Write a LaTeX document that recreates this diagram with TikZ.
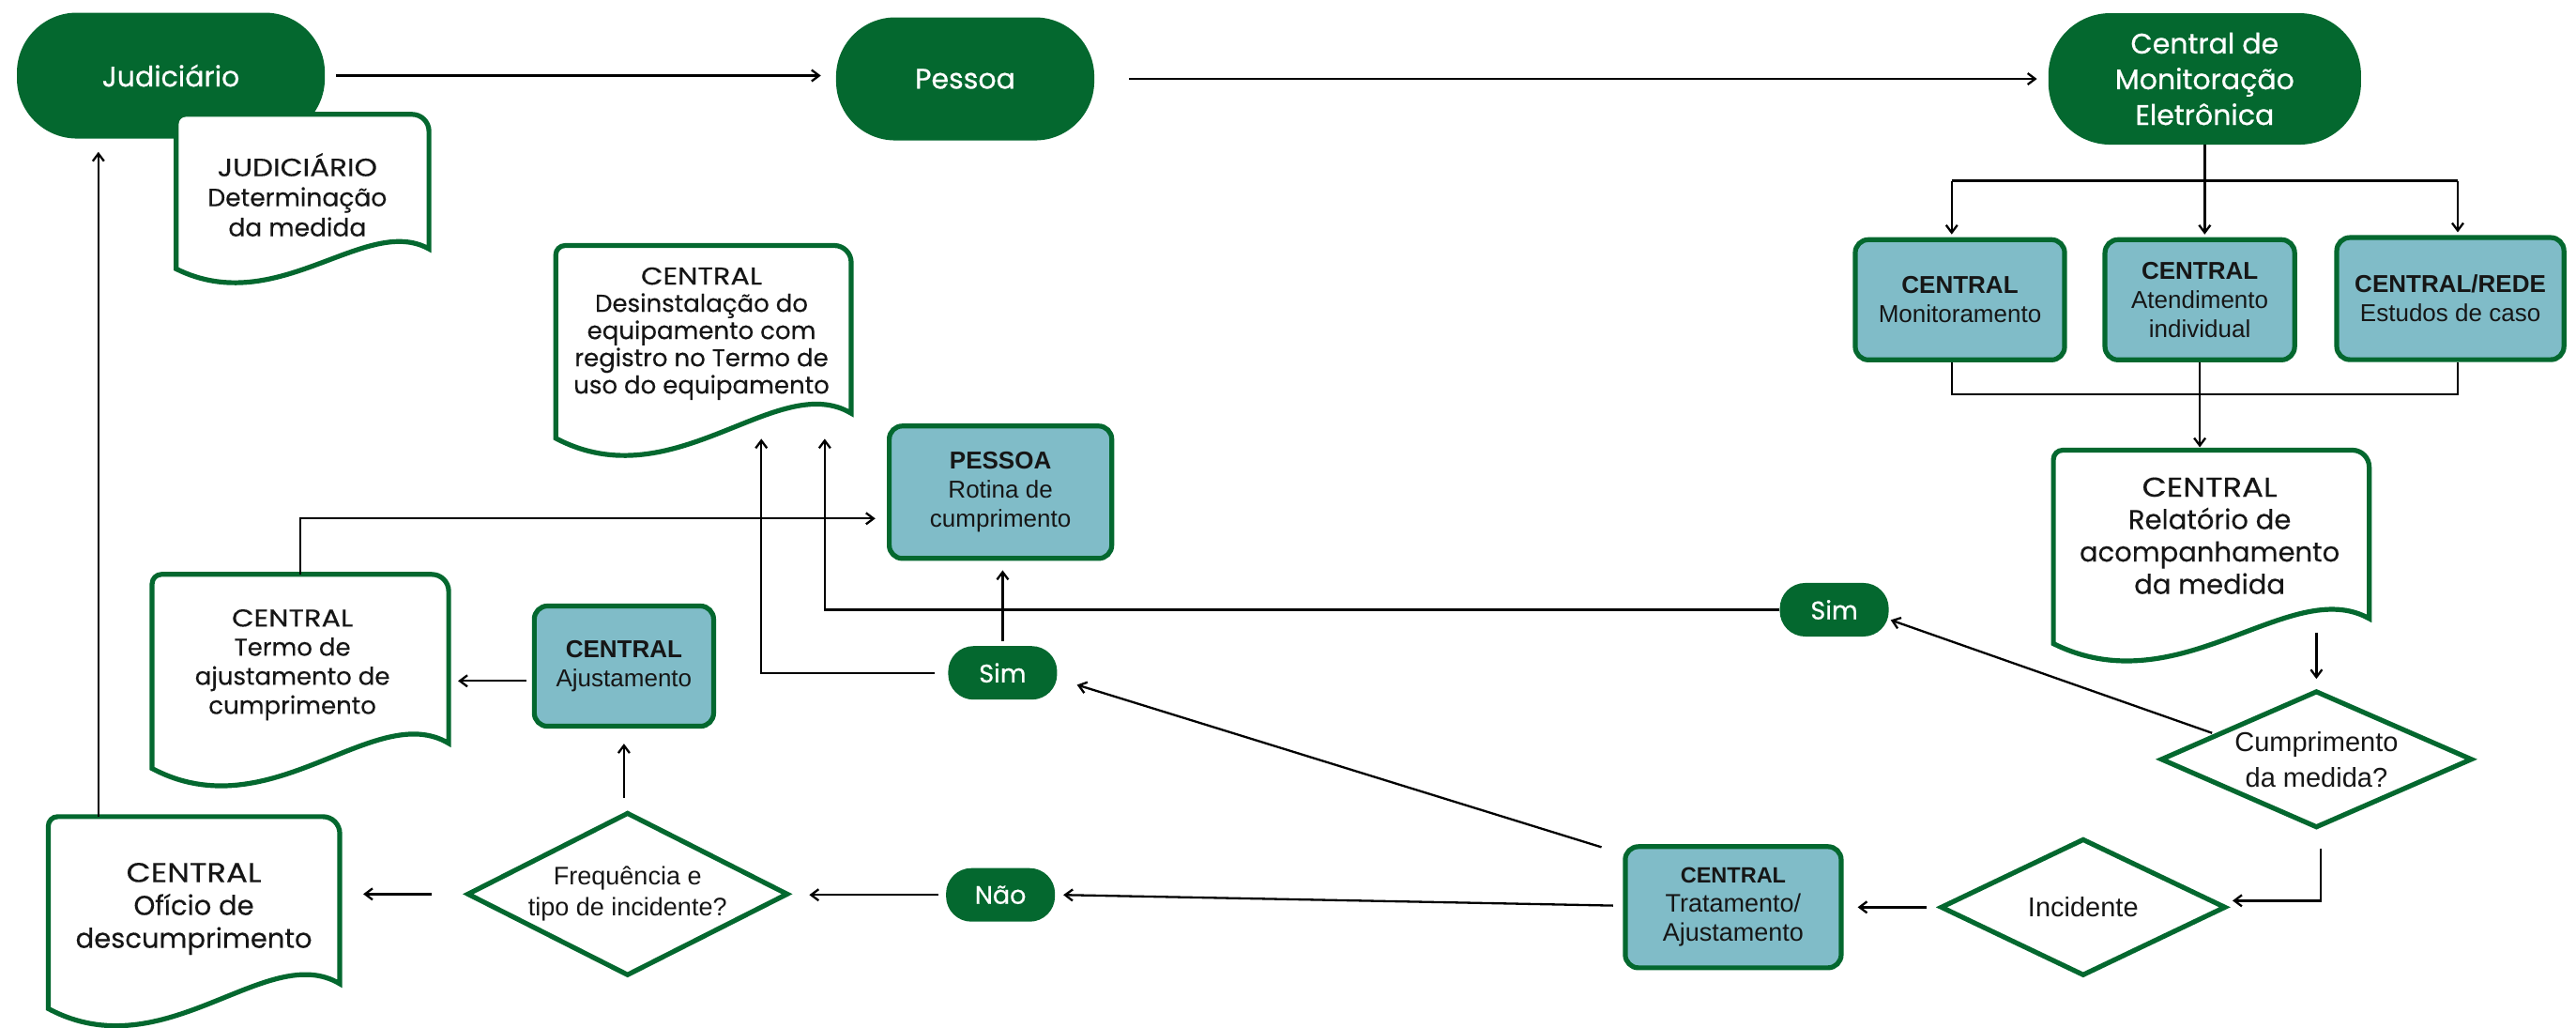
\documentclass[tikz,border=0pt]{standalone}
\usepackage{fontspec}
\setmainfont{Poppins}[FakeBold=0.3]
\newfontfamily\boxfont{Liberation Sans}
\newfontfamily\capsfont[FakeStretch=1.17,FakeBold=0.3]{Poppins}
\newfontfamily\pillfont[FakeBold=0.7]{Poppins}
\usetikzlibrary{shapes.geometric,arrows.meta,calc,fit}
\definecolor{dkgreen}{HTML}{04682F}
\definecolor{tealfill}{HTML}{80BCC8}
\definecolor{ink}{HTML}{161616}

\newcommand\docframe[1]{%
  \draw[docline] let \p1=(#1.north west), \p2=(#1.south east),
     \n1={\x2-\x1}, \n2={\y1-\y2} in
    (\x1,{\y2+0.089*\n2}) -- (\x1,{\y1-10}) arc[start angle=180,end angle=90,radius=10pt]
    -- ({\x2-18},\y1) arc[start angle=90,end angle=0,radius=18pt]
    -- (\x2,{\y2+0.207*\n2})
    .. controls ({\x1+0.75*\n1},{\y2+0.415*\n2}) and ({\x1+0.4*\n1},{\y2-0.207*\n2}) .. (\x1,{\y2+0.089*\n2}) -- cycle;}

\tikzset{
  pill/.style={fill=dkgreen, text=white, inner sep=0pt, align=center, font=\pillfont\fontsize{30}{38}\selectfont},
  smallpill/.style={fill=dkgreen, text=white, inner sep=0pt, rounded corners=27pt,
     minimum width=116pt, minimum height=57pt, font=\pillfont\fontsize{27}{30}\selectfont},
  boxnode/.style={rectangle, rounded corners=14pt, draw=dkgreen, line width=5.2pt, fill=tealfill,
     text=ink, align=center, inner sep=0pt, font=\boxfont\fontsize{26}{31}\selectfont},
  diam/.style={diamond, draw=dkgreen, line width=5.2pt, fill=white, text=ink, align=center,
     inner sep=0pt, font=\boxfont\fontsize{29}{38}\selectfont},
  docline/.style={draw=dkgreen, line width=5.2pt, fill=white},
  docarea/.style={inner sep=0pt},
  doctext/.style={text=ink, align=center, inner sep=0pt},
  conn/.style={draw=black, line width=2.3pt},
  arr/.style={conn, -{Straight Barb[length=8pt,width=12pt]}},
}

\begin{document}
\begin{tikzpicture}[x=1.75pt,y=-1.75pt]
\useasboundingbox (0,0) rectangle (1568,625);

% ---------- top pills
\node[pill, minimum width=328pt, minimum height=134pt, rounded corners=64pt] (judp) at (104,46) {Judiciário};
\node[pill, minimum width=275pt, minimum height=131pt, rounded corners=63pt] (pesp) at (587.5,48) {Pessoa};
\node[pill, minimum width=333pt, minimum height=140pt, rounded corners=66pt] (cmp) at (1342,48) {Central de\\Monitoração\\Eletrônica};

% ---------- documents
\path (107.4,69.7) coordinate (judd-nw) (261,172.7) coordinate (judd-se);
\node[docarea, fit=(judd-nw)(judd-se)] (judd) {};
\docframe{judd}
\node[doctext, font=\fontsize{26.5}{32}\selectfont] (judd-t) at (181,118.5) {{\capsfont JUDICIÁRIO}\\Determinação\\da medida};

\path (338.4,149.5) coordinate (desd-nw) (518,278) coordinate (desd-se);
\node[docarea, fit=(desd-nw)(desd-se)] (desd) {};
\docframe{desd}
\node[doctext, font=\fontsize{26}{29}\selectfont] (desd-t) at (427,203) {{\capsfont CENTRAL}\\Desinstalação do\\equipamento com\\registro no Termo de\\uso do equipamento};

\path (92.7,349.6) coordinate (termd-nw) (273,479) coordinate (termd-se);
\node[docarea, fit=(termd-nw)(termd-se)] (termd) {};
\docframe{termd}
\node[doctext, font=\fontsize{26}{31}\selectfont] (termd-t) at (178,404.5) {{\capsfont CENTRAL}\\Termo de\\ajustamento de\\cumprimento};

\path (29.5,497) coordinate (ofd-nw) (206.7,625) coordinate (ofd-se);
\node[docarea, fit=(ofd-nw)(ofd-se)] (ofd) {};
\docframe{ofd}
\node[doctext, font=\fontsize{29}{35}\selectfont] (ofd-t) at (118,553) {{\capsfont CENTRAL}\\Ofício de\\descumprimento};

\path (1250,274) coordinate (reld-nw) (1442,403) coordinate (reld-se);
\node[docarea, fit=(reld-nw)(reld-se)] (reld) {};
\docframe{reld}
\node[doctext, font=\fontsize{29}{34.5}\selectfont] (reld-t) at (1345,326) {{\capsfont CENTRAL}\\Relatório de\\acompanhamento\\da medida};

% ---------- boxes
\node[boxnode, minimum width=223pt, minimum height=128pt] (monb) at (1193,182.4) {\textbf{CENTRAL}\\Monitoramento};
\node[boxnode, minimum width=202pt, minimum height=128pt] (atb) at (1339,182.4) {\textbf{CENTRAL}\\Atendimento\\individual};
\node[boxnode, minimum width=242pt, minimum height=130pt] (estb) at (1491.5,181.7) {\textbf{CENTRAL/REDE}\\Estudos de caso};
\node[boxnode, minimum width=237pt, minimum height=141pt] (pessb) at (609,299.5) {\textbf{PESSOA}\\Rotina de\\cumprimento};
\node[boxnode, minimum width=191pt, minimum height=128pt] (ajb) at (379.8,405.3) {\textbf{CENTRAL}\\Ajustamento};
\node[boxnode, minimum width=230pt, minimum height=129pt, font=\boxfont\fontsize{27}{31}\selectfont] (tratb) at (1055,552) {{\fontsize{23.5}{31}\selectfont\textbf{CENTRAL}}\\Tratamento/\\Ajustamento};

% ---------- diamonds
\node[diam, minimum width=342pt, minimum height=174pt, aspect=1.95, font=\boxfont\fontsize{27}{33}\selectfont] (freqd) at (382,544) {Frequência e\\tipo de incidente?};
\node[diam, minimum width=332pt, minimum height=146pt, aspect=2.25] (cumd) at (1410,462) {Cumprimento\\da medida?};
\node[diam, minimum width=304pt, minimum height=146pt, aspect=2.06] (incd) at (1268,552) {Incidente};

% ---------- small pills
\node[smallpill] (sim1) at (610.3,409.4) {Sim};
\node[smallpill] (sim2) at (1116.5,371) {Sim};
\node[smallpill] (naop) at (609,544.5) {Não};

% ---------- connectors
\draw[arr, shorten <=12pt, shorten >=16pt] (judp.east) -- (judp.east -| pesp.west);
\draw[arr, shorten <=37pt, shorten >=12pt] (pesp.east) -- (pesp.east -| cmp.west);

\coordinate (busA) at (1188,110);
\coordinate (busB) at (1496,110);
\draw[conn] (busA) -- (busB);
\draw[arr, shorten >=3pt] (busA) -- (busA |- monb.north);
\draw[arr, shorten >=3pt] (cmp.south) -- (cmp.south |- atb.north);
\draw[arr, shorten >=3pt] (busB) -- (busB |- estb.north);

\coordinate (busC) at (1188,240);
\coordinate (busD) at (1496,240);
\draw[conn] (busC |- monb.south) -- (busC) -- (busD) -- (busD |- estb.south);
\draw[arr, shorten >=3pt] (atb.south) -- (atb.south |- reld.north);

\coordinate (reldout) at (1410,385);
\draw[arr, shorten >=10pt] (reldout) -- (reldout |- cumd.north);

\draw[arr, shorten <=3pt, shorten >=2pt] (cumd.166) -- (sim2.-10);

\coordinate (desin2) at (502,267);
\draw[arr] (sim2.west) -| (desin2);
\coordinate (desin1) at (463.4,267);
\draw[arr, shorten <=14pt] (sim1.west) -| (desin1);

\draw[arr, shorten <=5pt, shorten >=10pt] (sim1.north) -- (sim1.north |- pessb.south);
\draw[arr] (termd.north) |- ($(pessb.west)+(-7,16)$);

\draw[arr, shorten <=13pt, shorten >=16pt] (freqd.north -| ajb.south) -- (ajb.south);
\draw[arr, shorten <=6pt, shorten >=10pt] (termd.east -| ajb.west) -- (termd.east);
\draw[arr, shorten <=35pt, shorten >=25pt] (freqd.west) -- (freqd.west -| ofd.east);
\draw[arr, shorten <=8pt, shorten >=20pt] (naop.west) -- (naop.west -| freqd.east);
\draw[arr] ($(tratb.west)+(-6,-1)$) -- ($(naop.east)+(5,0)$);
\draw[arr] ($(tratb.north west)+(-13,1.8)$) -- ($(sim1.east)+(12,7.3)$);
\draw[arr, shorten <=12pt, shorten >=15pt] (incd.west) -- (incd.west -| tratb.east);
\draw[arr] ($(cumd.south)+(2.6,11)$) |- ($(incd.east)+(2.6,-4)$);

\coordinate (ofdtop) at ($(ofd.north west)+(30.5,0)$);
\draw[arr, shorten >=14pt] (ofdtop) -- (ofdtop |- judp.south);
\end{tikzpicture}
\end{document}
